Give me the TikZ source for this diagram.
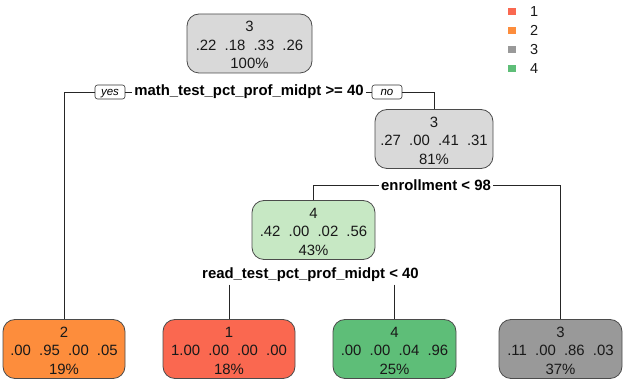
\documentclass[tikz,border=0pt]{standalone}
\usepackage{fontspec}
\setmainfont{Liberation Sans}
\definecolor{cred}{RGB}{250,104,80}
\definecolor{corange}{RGB}{253,141,60}
\definecolor{cgray}{RGB}{153,153,153}
\definecolor{cgreen}{RGB}{94,190,120}
\definecolor{clight}{RGB}{217,217,217}
\definecolor{clgreen}{RGB}{199,232,196}
\definecolor{ctext}{RGB}{25,25,25}
\definecolor{cborder}{RGB}{75,75,75}
\newcommand\gp{\hspace{0.55em}}
\newcommand\tstrut{\rule{0pt}{14pt}}
\begin{document}
\begin{tikzpicture}[x=1pt,y=-1pt,
  treebox/.style={draw=cborder, line width=0.8pt, rounded corners=12pt, inner sep=0pt,
    align=center, text=ctext, font=\fontsize{14.9}{18.5}\selectfont, minimum height=59pt},
  splitlab/.style={font=\bfseries\fontsize{14.9}{18}\selectfont, inner xsep=2pt, inner ysep=2.5pt, text=black},
  yn/.style={draw=black!80, line width=0.6pt, rounded corners=2.5pt, font=\itshape\fontsize{11.5}{12}\selectfont,
    minimum width=30pt, minimum height=14pt, inner sep=0pt, text depth=0pt, text height=8pt},
  edge/.style={draw=black!85, line width=0.7pt},
  legsq/.style={minimum width=8pt, minimum height=7pt, inner sep=0pt},
  legtxt/.style={anchor=west, font=\fontsize{14.5}{16}\selectfont, text=ctext, inner sep=0pt}]
\useasboundingbox (0,0) rectangle (625,390);
% nodes
\node[treebox, fill=clight, minimum width=125pt] (n1) at (249.5,43.5) {\tstrut 3\\.22\gp.18\gp.33\gp.26\\100\%};
\node[treebox, fill=clight, minimum width=118pt] (n3) at (434,139) {\tstrut 3\\.27\gp.00\gp.41\gp.31\\81\%};
\node[treebox, fill=clgreen, minimum width=123pt] (n4) at (313.5,230) {\tstrut 4\\.42\gp.00\gp.02\gp.56\\43\%};
\node[treebox, fill=corange, minimum width=122pt] (l2) at (64,349) {\tstrut 2\\.00\gp.95\gp.00\gp.05\\19\%};
\node[treebox, fill=cred, minimum width=132pt] (l1) at (229,349) {\tstrut 1\\1.00\gp.00\gp.00\gp.00\\18\%};
\node[treebox, fill=cgreen, minimum width=123pt] (l4) at (394.5,349) {\tstrut 4\\.00\gp.00\gp.04\gp.96\\25\%};
\node[treebox, fill=cgray, minimum width=123pt] (l3) at (560.5,349) {\tstrut 3\\.11\gp.00\gp.86\gp.03\\37\%};
% split labels
\node[splitlab] (s1) at (249,92) {math\_test\_pct\_prof\_midpt >= 40};
\node[yn] (yes) at (110,92) {yes};
\node[yn] (no) at (387,92) {no};
\node[splitlab] (s2) at (436,185) {enrollment < 98};
\node[splitlab] (s3) at (310.5,275) {read\_test\_pct\_prof\_midpt < 40};
% connectors
\draw[edge] (yes.west) -| (l2.north);
\draw[edge] (yes.east) -- (s1.west);
\draw[edge] (s1.east) -- (no.west);
\draw[edge] (no.east) -| (n3.north);
\draw[edge] (s2.west) -| (n4.north);
\draw[edge] (s2.east) -| (l3.north);
\draw[edge] (l1.north |- s3.south) -- (l1.north);
\draw[edge] (l4.north |- s3.south) -- (l4.north);
% legend
\node[legsq, fill=cred] (k1) at (512,11.5) {};
\node[legsq, fill=corange] (k2) at (512,30.5) {};
\node[legsq, fill=cgray] (k3) at (512,49.5) {};
\node[legsq, fill=cgreen] (k4) at (512,68.5) {};
\node[legtxt] (t1) at (530,11.5) {1};
\node[legtxt] (t2) at (530,30.5) {2};
\node[legtxt] (t3) at (530,49.5) {3};
\node[legtxt] (t4) at (530,68.5) {4};
\end{tikzpicture}
\end{document}
